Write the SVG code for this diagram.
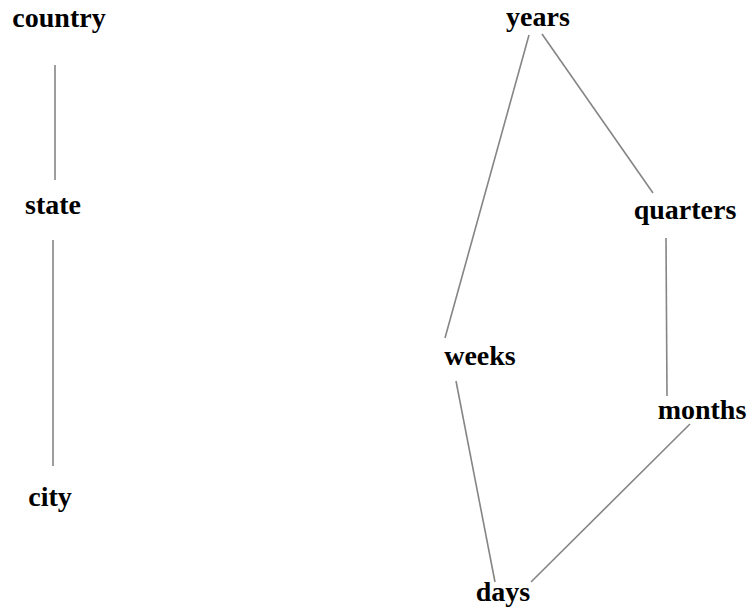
<svg xmlns="http://www.w3.org/2000/svg" width="747" height="610" viewBox="0 0 747 610">
<style>
.lbl{font-family:"Liberation Serif","Times New Roman",serif;font-weight:bold;font-size:28px;fill:#000;text-anchor:middle}
.edge{stroke:#858585;stroke-width:1.6;fill:none}
</style>
<rect width="747" height="610" fill="#fff"/>
<g id="connectors">
<line class="edge" x1="55" y1="65" x2="55" y2="180"/>
<line class="edge" x1="53" y1="240" x2="53" y2="466"/>
<line class="edge" x1="529" y1="35" x2="445" y2="338"/>
<line class="edge" x1="542" y1="34" x2="653" y2="193"/>
<line class="edge" x1="666" y1="238" x2="667" y2="396"/>
<line class="edge" x1="456" y1="381" x2="495" y2="582"/>
<line class="edge" x1="690" y1="424" x2="531" y2="582"/>
</g>
<g id="country"><text class="lbl" x="59" y="27">country</text></g>
<g id="state"><text class="lbl" x="53" y="214">state</text></g>
<g id="city"><text class="lbl" x="50" y="506">city</text></g>
<g id="years"><text class="lbl" x="538" y="26">years</text></g>
<g id="quarters"><text class="lbl" x="685" y="219">quarters</text></g>
<g id="weeks"><text class="lbl" x="480" y="365">weeks</text></g>
<g id="months"><text class="lbl" x="702" y="419">months</text></g>
<g id="days"><text class="lbl" x="503" y="601">days</text></g>
</svg>
